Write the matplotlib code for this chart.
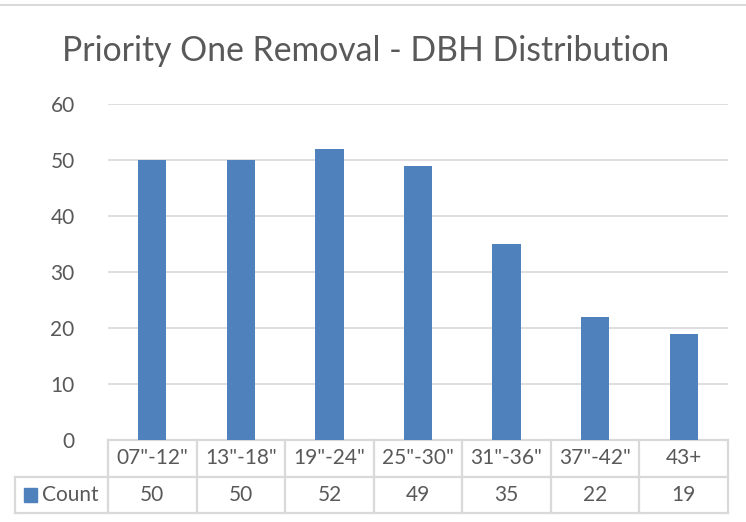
import matplotlib
matplotlib.use("Agg")
from matplotlib import pyplot as plt
from matplotlib.lines import Line2D
from matplotlib.patches import Rectangle

categories = ['07"-12"', '13"-18"', '19"-24"', '25"-30"', '31"-36"', '37"-42"', '43+']
counts = [50, 50, 52, 49, 35, 22, 19]
series_name = "Count"
yticks = [0, 10, 20, 30, 40, 50, 60]

bar_color = "#4f81bd"
text_color = "#595959"
line_color = "#d9d9d9"

plt.rcParams['font.family'] = ['Lato', 'DejaVu Sans']

fig = plt.figure(figsize=(7.46, 5.22), dpi=100)
ax = fig.add_axes([108/746, 82/522, 620/746, 336/522])

x = list(range(len(categories)))
ax.bar(x, counts, width=0.32, color=bar_color, zorder=3)

ax.set_xlim(-0.5, len(categories) - 0.5)
ax.set_ylim(0, 60)
ax.set_yticks(yticks)
ax.grid(True, axis="y", color=line_color, linewidth=1.2, zorder=0)
ax.set_xticks([])
ax.tick_params(axis="y", length=0, pad=24, labelsize=15, labelcolor=text_color)
for s in ax.spines.values():
    s.set_visible(False)

# data table under the chart
tr = ax.get_xaxis_transform()
y_mid = -0.110
y_bot = -0.217
x_left = -1.55
lw = 1.6
ax.add_line(Line2D([-0.5, len(categories) - 0.5], [0, 0], transform=tr,
                   color=line_color, lw=lw, clip_on=False))
ax.add_line(Line2D([x_left, len(categories) - 0.5], [y_mid, y_mid], transform=tr,
                   color=line_color, lw=lw, clip_on=False))
ax.add_line(Line2D([x_left, len(categories) - 0.5], [y_bot, y_bot], transform=tr,
                   color=line_color, lw=lw, clip_on=False))
ax.add_line(Line2D([x_left, x_left], [y_mid, y_bot], transform=tr,
                   color=line_color, lw=lw, clip_on=False))
for i in range(len(categories) + 1):
    ax.add_line(Line2D([i - 0.5, i - 0.5], [0, y_bot], transform=tr,
                       color=line_color, lw=lw, clip_on=False))

for i, (c, v) in enumerate(zip(categories, counts)):
    ax.text(i, -0.054, c, transform=tr, ha="center", va="center",
            fontsize=15, color=text_color)
    ax.text(i, -0.164, str(v), transform=tr, ha="center", va="center",
            fontsize=15, color=text_color)

# legend key in the table row
ax.add_patch(Rectangle((-1.45, -0.184), 0.15, 0.042, transform=tr,
                       color=bar_color, clip_on=False))
ax.text(-1.24, -0.164, series_name, transform=tr, ha="left", va="center",
        fontsize=15, color=text_color)

fig.text(62/746, 1 - 51/522, "Priority One Removal - DBH Distribution",
         ha="left", va="center", fontsize=24.3, color=text_color)

fig.add_artist(Line2D([0, 1], [1 - 5/522, 1 - 5/522], transform=fig.transFigure,
                      color=line_color, lw=1.5))

fig.savefig("out.png", dpi=100)
